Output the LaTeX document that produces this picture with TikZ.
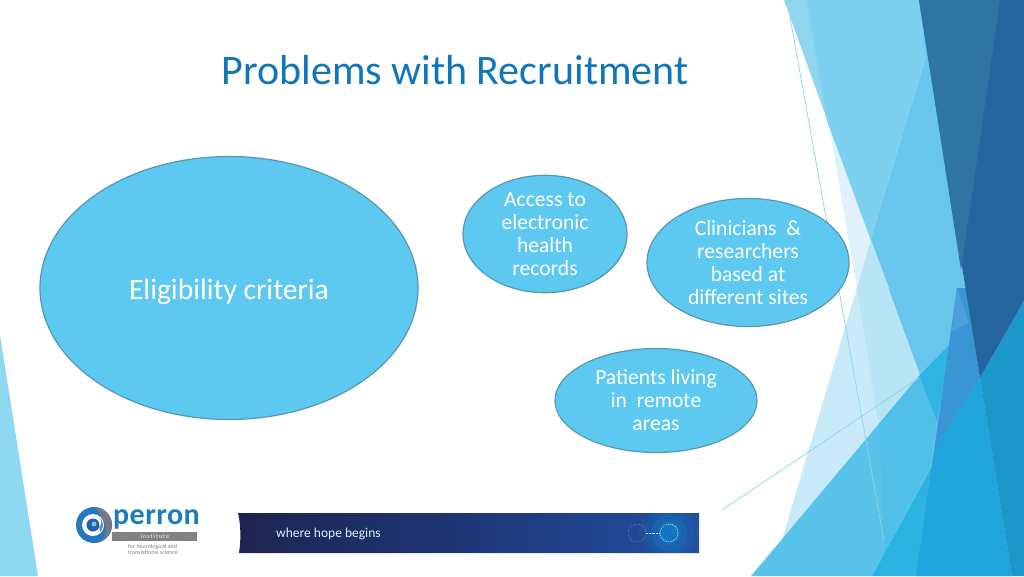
\documentclass[tikz,border=0pt]{standalone}
\usepackage{fontspec}
\setmainfont{Carlito}
\usepackage{xcolor}
\usetikzlibrary{shapes.geometric}
\definecolor{bubblefill}{HTML}{5DC8F0}
\definecolor{bubbleline}{HTML}{5598B3}
\definecolor{titleblue}{HTML}{0F75BC}
\tikzset{
  bubble/.style={ellipse, draw=bubbleline, fill=bubblefill, text=white, align=center, inner sep=0pt, outer sep=0pt, line width=1.2pt},
  smalltext/.style={font=\fontsize{21.6}{23}\selectfont},
  hairline/.style={draw={rgb,255:red,140;green,215;blue,225}, line width=0.7pt}
}
\begin{document}
\begin{tikzpicture}[x=1pt,y=-1pt]
\useasboundingbox (0,0) rectangle (1024,576);
%\draw[step=100pt,gray,very thin] (0,0) grid (1024,576);
\fill[white] (0,0) rectangle (1024,576);

% left corner
\fill[fill={rgb,255:red,143;green,216;blue,242}] (0,335) -- (38,576) -- (0,576) -- cycle;

% right side facets
\fill[fill={rgb,255:red,143;green,213;blue,240}] (784,0) -- (807,0) -- (830,128) -- cycle;
\fill[fill={rgb,255:red,223;green,242;blue,251}] (829,125) -- (871,240) -- (857,288) -- cycle;
\fill[fill={rgb,255:red,200;green,234;blue,248}] (871,240) -- (782,540) -- (925,376) -- cycle;
\fill[fill={rgb,255:red,184;green,228;blue,246}] (857,288) -- (889,288) -- (925,376) -- (879,428) -- cycle;
\fill[fill={rgb,255:red,104;green,198;blue,236}] (807,0) -- (919,0) -- (980,378) -- (937,421) -- (827,120) -- cycle;
\fill[fill={rgb,255:red,125;green,208;blue,240}] (807,0) -- (919,0) -- (926,58) -- (871,240) -- (827,120) -- cycle;
\fill[fill={rgb,255:red,184;green,228;blue,246}] (871,240) -- (889,288) -- (857,288) -- cycle;
\fill[fill={rgb,255:red,90;green,195;blue,235}] (751,576) -- (919,376) -- (951,343) -- (980,378) -- (872,576) -- cycle;
\fill[fill={rgb,255:red,80;green,192;blue,233}] (879,424) -- (919,376) -- (937,421) -- (931,461) -- (884,555) -- cycle;
\fill[fill={rgb,255:red,47;green,181;blue,228}] (919,376) -- (951,343) -- (937,421) -- cycle;
\fill[fill={rgb,255:red,58;green,149;blue,212}] (957,288) -- (966,288) -- (980,378) -- (934,451) -- cycle;
\fill[fill={rgb,255:red,75;green,160;blue,218}] (957,288) -- (969,323) -- (952,331) -- cycle;
\fill[fill={rgb,255:red,43;green,179;blue,228}] (872,576) -- (980,378) -- (1012,576) -- cycle;
\fill[fill={rgb,255:red,32;green,164;blue,220}] (916,576) -- (934,451) -- (980,378) -- (1012,576) -- cycle;
\fill[fill={rgb,255:red,27;green,151;blue,203}] (980,378) -- (1024,301) -- (1024,576) -- (1012,576) -- cycle;
\fill[fill={rgb,255:red,37;green,101;blue,159}] (919,0) -- (1024,0) -- (1024,301) -- (980,378) -- cycle;
\fill[fill={rgb,255:red,46;green,117;blue,166}] (919,0) -- (1000,0) -- (961,270) -- cycle;

% thin lines
\coordinate (lineA) at (790,17);
\coordinate (lineB) at (884,541);
\coordinate (lineC) at (722,510);
\coordinate (lineD) at (919,378);
\draw[hairline] (lineA) -- (lineB);
\draw[hairline] (lineC) -- (lineD);

% title
\node[text=titleblue, font=\fontsize{42}{46}\selectfont, anchor=center] (title) at (455,70) {Problems with Recruitment};

% bubbles
\node[bubble, minimum width=378pt, minimum height=263pt] (eligibility) at (229,288) {};
\node[text=white, font=\fontsize{29.6}{32}\selectfont] (eligibilitytext) at (229,291.5) {Eligibility criteria};
\node[bubble, smalltext, minimum width=164pt, minimum height=104pt] (access) at (545,234) {Access to\\electronic\\health\\records};
\node[bubble, smalltext, minimum width=202pt, minimum height=128pt] (clinicians) at (748,262.5) {Clinicians\ \ \&\\researchers\\based at\\different sites};
\node[bubble, smalltext, minimum width=202pt, minimum height=104pt] (patients) at (656,400.5) {Patients living\\in\ \ remote\\areas};

% logo
\fill[fill={rgb,255:red,35;green,120;blue,195}] (94,525) circle (18);
\fill[fill={rgb,255:red,120;green,120;blue,125}] (94,507) arc (-90:90:18) .. controls (104,543) and (110,530) .. (103,519) .. controls (100,513) and (97,509) .. (94,507) -- cycle;
\fill[white] (93,525) circle (11);
\fill[fill={rgb,255:red,130;green,130;blue,135}] (100,532) arc (45:-60:10) arc (-60:45:7) -- cycle;
\fill[fill={rgb,255:red,30;green,95;blue,175}] (93,525) circle (6.5);
\fill[fill={rgb,255:red,130;green,190;blue,230}] (94,524) circle (2.5);
\node[text={rgb,255:red,28;green,125;blue,185}, font=\bfseries\fontsize{30}{30}\selectfont\addfontfeature{LetterSpace=1.5}, anchor=west, inner sep=0pt] (perron) at (113,519) {perron};
\fill[fill={rgb,255:red,130;green,130;blue,130}] (112,532) rectangle (197,541);
\node[text=white, font=\fontsize{6}{6}\selectfont, inner sep=0pt] (institute) at (155,536.5) {i\,n\,s\,t\,i\,t\,u\,t\,e};
\node[text=gray, font=\fontsize{6}{6.5}\selectfont, align=left, anchor=north west, inner sep=0pt] (science) at (128,544) {for neurological and\\translational science};

% banner
\begin{scope}
\clip (238,513) -- (699,513) -- (699,553) -- (239,553) .. controls (241,540) and (241,526) .. (238,513) -- cycle;
\shade[left color={rgb,255:red,30;green,36;blue,80}, right color={rgb,255:red,36;green,78;blue,158}, middle color={rgb,255:red,30;green,55;blue,120}] (238,513) rectangle (699,553);
\foreach \r/\o in {30/0.1,24/0.15,18/0.2,12/0.3,8/0.4}
   \fill[fill=cyan!70!blue, opacity=\o] (669,533) circle (\r);
\end{scope}
\draw[white!70!cyan, densely dotted, thick] (669,533) circle (9);
\draw[white!50!cyan, densely dotted] (637,533) circle (9);
\draw[white!70!cyan, densely dotted] (646,533) -- (660,533);
\node[text=white!85!cyan, font=\fontsize{13.5}{14}\selectfont, inner sep=0pt, anchor=west] (hope) at (276,534) {where hope begins};
\end{tikzpicture}
\end{document}
